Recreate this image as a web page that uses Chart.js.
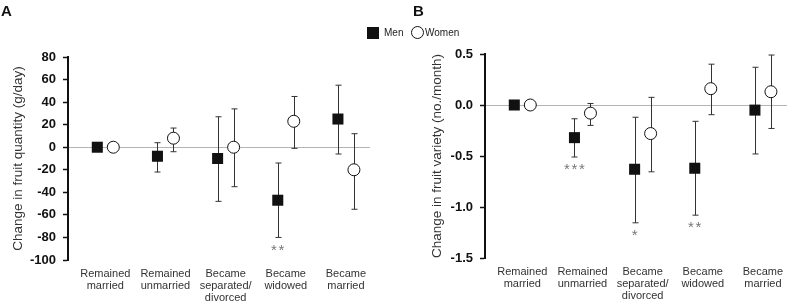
<!DOCTYPE html>
<html>
<head>
<meta charset="utf-8">
<script src="https://cdn.jsdelivr.net/npm/chart.js@4.4.1/dist/chart.umd.min.js"></script>
<style>
  html, body { margin: 0; padding: 0; background: #fff; }
  #wrap { position: relative; width: 787px; height: 304px; overflow: hidden; font-family: "Liberation Sans", Arial, sans-serif; }
  .panel { position: absolute; top: 0; height: 304px; }
  .panel canvas { display: block; }
  .plabel { position: absolute; font-weight: bold; font-size: 15px; color: #111; line-height: 15px; }
  .leg { position: absolute; font-size: 10px; color: #222; line-height: 12px; }
</style>
</head>
<body>
<div id="wrap">
  <div class="panel" style="left:0;width:380px;"><canvas id="cA" width="380" height="304"></canvas></div>
  <div class="panel" style="left:380px;width:407px;"><canvas id="cB" width="407" height="304"></canvas></div>
  <div class="plabel" style="left:1px;top:3px;">A</div>
  <div class="plabel" style="left:413px;top:3px;">B</div>
  <div style="position:absolute;left:367px;top:27px;width:12px;height:12px;background:#111;"></div>
  <div class="leg" style="left:384px;top:27px;">Men</div>
  <div style="position:absolute;left:411px;top:26px;width:13px;height:13px;border:1px solid #111;border-radius:50%;box-sizing:border-box;"></div>
  <div class="leg" style="left:425px;top:27px;">Women</div>
</div>
<script>
// ---- data ----
const categories = [["Remained","married"],["Remained","unmarried"],["Became","separated/","divorced"],["Became","widowed"],["Became","married"]];

const quantityMen      = [0, -8, -10, -47, 25];
const quantityMenLow   = [null, -22, -48, -80, -6];
const quantityMenHigh  = [null, 4, 27, -14, 55];
const quantityWomen    = [0, 8, 0, 23, -20];
const quantityWomenLow = [null, -4, -35, -1, -55];
const quantityWomenHigh= [null, 17, 34, 45, 12];
const quantitySig      = ["", "", "", "**", ""];
const quantityTicks    = [80, 60, 40, 20, 0, -20, -40, -60, -80, -100];

const varietyMen       = [0, -0.32, -0.63, -0.62, -0.05];
const varietyMenLow    = [null, -0.51, -1.155, -1.08, -0.48];
const varietyMenHigh   = [null, -0.135, -0.12, -0.16, 0.37];
const varietyWomen     = [0, -0.08, -0.28, 0.16, 0.13];
const varietyWomenLow  = [null, -0.20, -0.655, -0.095, -0.23];
const varietyWomenHigh = [null, 0.015, 0.075, 0.40, 0.49];
const varietySig       = ["", "***", "*", "**", ""];
const varietyTicks     = [0.5, 0.0, -0.5, -1.0, -1.5];

// ---- helpers ----
const FONT = '"Liberation Sans", Arial, sans-serif';
const SHIFT = 0.133;

function pts(vals, low, high, shift) {
  return vals.map((v, i) => ({ x: i + shift, y: v, lo: low[i], hi: high[i] }));
}

const errorBars = {
  id: 'errorBars',
  beforeDatasetsDraw(chart) {
    const ctx = chart.ctx, ys = chart.scales.y, xs = chart.scales.x;
    ctx.save();
    ctx.strokeStyle = '#333';
    ctx.lineWidth = 1;
    chart.data.datasets.forEach(ds => {
      ds.data.forEach(p => {
        if (p.lo == null) return;
        const x = Math.round(xs.getPixelForValue(p.x)) + 0.5;
        const y1 = ys.getPixelForValue(p.hi), y2 = ys.getPixelForValue(p.lo);
        ctx.beginPath();
        ctx.moveTo(x, y1); ctx.lineTo(x, y2);
        ctx.moveTo(x - 3, y1); ctx.lineTo(x + 3, y1);
        ctx.moveTo(x - 3, y2); ctx.lineTo(x + 3, y2);
        ctx.stroke();
      });
    });
    ctx.restore();
  },
  afterDraw(chart) {
    const ctx = chart.ctx, ys = chart.scales.y, xs = chart.scales.x;
    const sig = chart.options.plugins.errorBars.sig;
    const cats = chart.options.plugins.errorBars.categories;
    ctx.save();
    // significance stars under men's bars
    ctx.fillStyle = '#777';
    ctx.font = '15px ' + FONT;
    ctx.textAlign = 'center';
    ctx.textBaseline = 'middle';
    const men = chart.data.datasets[0].data;
    sig.forEach((s, i) => {
      if (!s) return;
      const p = men[i];
      const cx = xs.getPixelForValue(p.x);
      const cy = ys.getPixelForValue(p.lo) + 13;
      const n = s.length, step = 7.5;
      for (let k = 0; k < n; k++) {
        ctx.fillText(s[k], cx + (k - (n - 1) / 2) * step, cy);
      }
    });
    // category labels
    ctx.fillStyle = '#333';
    ctx.font = '11px ' + FONT;
    const base = ys.bottom + 14;
    cats.forEach((lines, i) => {
      lines.forEach((t, j) => {
        ctx.fillText(t, xs.getPixelForValue(i), base + j * 12);
      });
    });
    ctx.restore();
  }
};

function makeChart(id, opts) {
  return new Chart(document.getElementById(id), {
    type: 'scatter',
    data: {
      datasets: [
        { label: 'Men', data: pts(opts.men, opts.menLo, opts.menHi, -SHIFT),
          pointStyle: 'rect', pointRadius: 7.8, pointHoverRadius: 7.8,
          backgroundColor: '#111', borderColor: '#111', borderWidth: 0 },
        { label: 'Women', data: pts(opts.women, opts.womenLo, opts.womenHi, SHIFT),
          pointStyle: 'circle', pointRadius: 6, pointHoverRadius: 6,
          backgroundColor: '#fff', borderColor: '#111', borderWidth: 1 }
      ]
    },
    options: {
      responsive: false,
      animation: false,
      devicePixelRatio: 1,
      layout: { padding: opts.padding, autoPadding: false },
      plugins: {
        legend: { display: false },
        tooltip: { enabled: false },
        errorBars: { sig: opts.sig, categories: categories }
      },
      scales: {
        x: { type: 'linear', min: -0.62, max: 4.4, display: false },
        y: {
          type: 'linear', min: opts.ticks[opts.ticks.length - 1], max: opts.ticks[0],
          afterBuildTicks: s => { s.ticks = opts.ticks.map(v => ({ value: v })); },
          afterFit: s => { s.width = opts.axisWidth; },
          ticks: {
            font: { family: FONT, size: 13, weight: 'bold' }, color: '#111', padding: 7,
            callback: opts.fmt
          },
          grid: {
            drawTicks: true, tickLength: 5, tickColor: '#111', tickWidth: 1.5,
            color: c => (c.tick && c.tick.value === 0) ? '#b4b4b4' : 'rgba(0,0,0,0)',
            lineWidth: 1
          },
          border: { display: true, color: '#111', width: 2 },
          title: {
            display: true, text: opts.title, color: '#333',
            font: { family: FONT, size: 13.5 }, padding: { top: opts.titlePad, bottom: 0 }
          }
        }
      }
    },
    plugins: [errorBars]
  });
}

makeChart('cA', {
  men: quantityMen, menLo: quantityMenLow, menHi: quantityMenHigh,
  women: quantityWomen, womenLo: quantityWomenLow, womenHi: quantityWomenHigh,
  sig: quantitySig, ticks: quantityTicks, fmt: v => String(v),
  title: 'Change in fruit quantity (g/day)', titlePad: 10, axisWidth: 68,
  padding: { left: 0, right: 10, top: 57, bottom: 44 }
});
makeChart('cB', {
  men: varietyMen, menLo: varietyMenLow, menHi: varietyMenHigh,
  women: varietyWomen, womenLo: varietyWomenLow, womenHi: varietyWomenHigh,
  sig: varietySig, ticks: varietyTicks, fmt: v => Number(v).toFixed(1),
  title: 'Change in fruit variety (no./month)', titlePad: 49, axisWidth: 105,
  padding: { left: 0, right: 0, top: 54, bottom: 46 }
});
</script>
</body>
</html>
